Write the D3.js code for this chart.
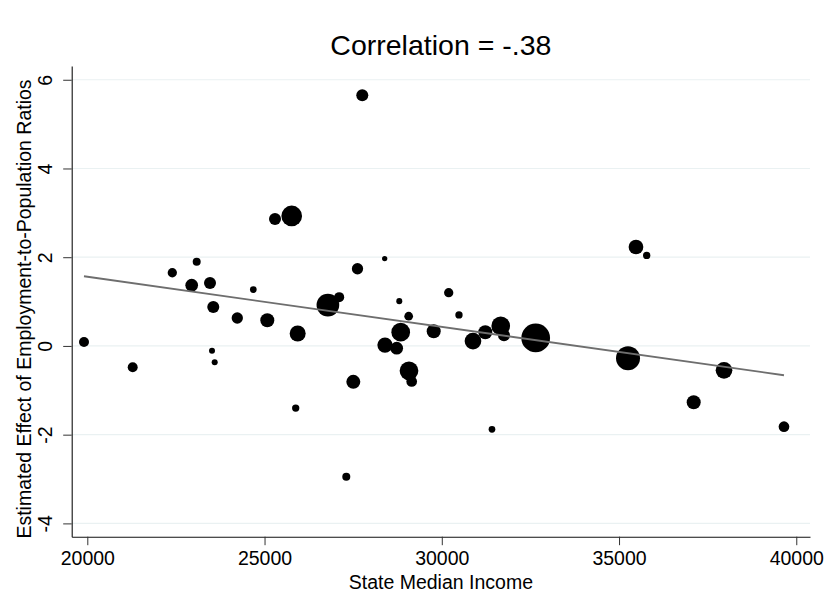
<!DOCTYPE html>
<html>
<head>
<meta charset="utf-8">
<script src="https://cdn.jsdelivr.net/npm/d3@7"></script>
<style>
  html, body { margin: 0; padding: 0; background: #fff; }
  svg { display: block; font-family: "Liberation Sans", Arial, Helvetica, sans-serif; }
</style>
</head>
<body>
<svg id="chart" width="829" height="616"></svg>
<script>
// State median income (x), estimated effect (y) and population weight per state
const income = [19907, 21281, 22398, 23086, 22945, 23461, 23554, 23518, 23594, 24231,
                24683, 25078, 25295, 25766, 25935, 27504, 26787, 27106, 27622, 28389,
                28801, 29066, 28841, 28398, 28728, 29075, 29151, 29772, 30195, 30485,
                30880, 31227, 31662, 31755, 32649, 35478, 35780, 35253, 37961, 37106,
                39653, 27757, 25879, 27306, 31416];
const effect = [0.09, -0.48, 1.65, 1.90, 1.37, 1.42, 0.88, -0.11, -0.37, 0.63,
                1.27, 0.58, 2.86, 2.93, 0.28, -0.81, 0.92, 1.10, 1.74, 1.97,
                1.01, 0.67, 0.31, 0.02, -0.05, -0.56, -0.80, 0.33, 1.20, 0.70,
                0.11, 0.31, 0.45, 0.24, 0.18, 2.23, 2.04, -0.28, -0.55, -1.27,
                -1.82, 5.65, -1.40, -2.95, -1.88];
const weight = [12.1, 12.1, 10.5, 7.8, 19.6, 17.5, 17.5, 4.4, 4.4, 15.5,
                5.4, 23.8, 17.5, 52.0, 31.1, 23.8, 62.6, 12.1, 15.5, 3.4,
                4.4, 9.2, 42.5, 28.4, 19.6, 42.5, 13.9, 23.8, 10.5, 6.5,
                33.9, 23.8, 42.5, 17.5, 100, 26.2, 6.5, 69.9, 33.9, 23.8,
                13.9, 17.5, 6.5, 7.8, 5.4];

// Weighted linear fit of effect on income
const fitIntercept = 3.82;
const fitSlope = -0.000113;

const xTicks = [20000, 25000, 30000, 35000, 40000];
const yTicks = [-4, -2, 0, 2, 4, 6];
const titleText = "Correlation = -.38";
const xTitle = "State Median Income";
const yTitle = "Estimated Effect of Employment-to-Population Ratios";

const svg = d3.select("#chart");
const W = 829, H = 616;
const plot = { left: 71.7, right: 810, top: 66, bottom: 536.7 };

const x = d3.scaleLinear().domain([19560, 40387]).range([plot.left, plot.right]);
const y = d3.scaleLinear().domain([-4.3, 6.31]).range([plot.bottom, plot.top]);
const r = d3.scaleSqrt().domain([0, 100]).range([0, 14.35]);

// plain hyphen for negative tick labels
const fmt = d => String(d);

svg.append("rect").attr("width", W).attr("height", H).attr("fill", "#fff");

// horizontal grid
svg.append("g")
  .selectAll("line")
  .data(yTicks)
  .join("line")
  .attr("x1", plot.left).attr("x2", plot.right)
  .attr("y1", d => y(d)).attr("y2", d => y(d))
  .attr("stroke", "#eaf1f2")
  .attr("stroke-width", 1.2);

// points
svg.append("g")
  .selectAll("circle")
  .data(income.map((v, i) => ({ x: v, y: effect[i], w: weight[i] })))
  .join("circle")
  .attr("cx", d => x(d.x))
  .attr("cy", d => y(d.y))
  .attr("r", d => r(d.w))
  .attr("fill", "#000");

// fitted line across the income range
const ext = d3.extent(income);
svg.append("path")
  .datum(ext.map(v => [v, fitIntercept + fitSlope * v]))
  .attr("d", d3.line().x(d => x(d[0])).y(d => y(d[1])))
  .attr("stroke", "#6e6e6e")
  .attr("stroke-width", 1.8)
  .attr("fill", "none");

// x axis
const xAxis = svg.append("g")
  .attr("transform", `translate(0,${plot.bottom})`)
  .call(d3.axisBottom(x).tickValues(xTicks).tickFormat(fmt).tickSize(8.5).tickPadding(6).tickSizeOuter(0));
xAxis.select(".domain").attr("stroke", "#111").attr("stroke-width", 1.1);
xAxis.selectAll(".tick line").attr("stroke", "#333").attr("stroke-width", 1);
xAxis.selectAll(".tick text").attr("font-size", 19.5).attr("fill", "#000")
  .attr("font-family", "'Liberation Sans', Arial, sans-serif");

// y axis with rotated tick labels
const yAxis = svg.append("g")
  .attr("transform", `translate(${plot.left},0)`)
  .call(d3.axisLeft(y).tickValues(yTicks).tickFormat(fmt).tickSize(8.5).tickSizeOuter(0));
yAxis.select(".domain").attr("stroke", "#111").attr("stroke-width", 1.1);
yAxis.selectAll(".tick line").attr("stroke", "#333").attr("stroke-width", 1);
yAxis.selectAll(".tick text")
  .attr("font-size", 19.5).attr("fill", "#000")
  .attr("font-family", "'Liberation Sans', Arial, sans-serif")
  .attr("x", null).attr("dy", null)
  .attr("text-anchor", "middle")
  .attr("transform", "translate(-20,0) rotate(-90)");

// titles
svg.append("text")
  .attr("x", (plot.left + plot.right) / 2).attr("y", 55)
  .attr("text-anchor", "middle")
  .attr("font-size", 28.5).attr("fill", "#000")
  .text(titleText);

svg.append("text")
  .attr("x", (plot.left + plot.right) / 2).attr("y", 589)
  .attr("text-anchor", "middle")
  .attr("font-size", 19.5).attr("fill", "#000")
  .text(xTitle);

svg.append("text")
  .attr("transform", `translate(31,309) rotate(-90)`)
  .attr("text-anchor", "middle")
  .attr("font-size", 19.5).attr("fill", "#000")
  .text(yTitle);
</script>
</body>
</html>
